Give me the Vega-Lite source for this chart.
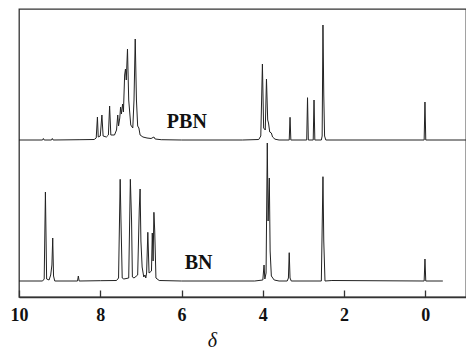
{
  "$schema": "https://vega.github.io/schema/vega-lite/v6.json",
  "width": 447,
  "height": 288,
  "autosize": {"type": "none"},
  "padding": {"left": 19, "top": 9, "right": 0, "bottom": 54},
  "background": "white",
  "config": {
    "view": {"stroke": "#333", "strokeWidth": 1.3},
    "font": "Liberation Serif"
  },
  "datasets": {
    "pbn": [
      {"delta": 10.0, "intensity": 0}, {"delta": 9.42, "intensity": 0}, {"delta": 9.40, "intensity": 1.5}, {"delta": 9.38, "intensity": 0},
      {"delta": 9.20, "intensity": 0}, {"delta": 9.18, "intensity": 1.5}, {"delta": 9.16, "intensity": 0}, {"delta": 8.5, "intensity": 0.3},
      {"delta": 8.15, "intensity": 0.5}, {"delta": 8.10, "intensity": 2}, {"delta": 8.07, "intensity": 23}, {"delta": 8.05, "intensity": 3},
      {"delta": 8.0, "intensity": 4}, {"delta": 7.96, "intensity": 25}, {"delta": 7.93, "intensity": 4}, {"delta": 7.85, "intensity": 3},
      {"delta": 7.80, "intensity": 5}, {"delta": 7.77, "intensity": 34}, {"delta": 7.74, "intensity": 5}, {"delta": 7.65, "intensity": 5},
      {"delta": 7.60, "intensity": 10}, {"delta": 7.57, "intensity": 25}, {"delta": 7.55, "intensity": 14}, {"delta": 7.52, "intensity": 22},
      {"delta": 7.50, "intensity": 33}, {"delta": 7.48, "intensity": 26}, {"delta": 7.45, "intensity": 36}, {"delta": 7.43, "intensity": 28},
      {"delta": 7.40, "intensity": 65}, {"delta": 7.38, "intensity": 71}, {"delta": 7.36, "intensity": 60}, {"delta": 7.33, "intensity": 91},
      {"delta": 7.30, "intensity": 40}, {"delta": 7.25, "intensity": 15}, {"delta": 7.20, "intensity": 12}, {"delta": 7.17, "intensity": 40},
      {"delta": 7.14, "intensity": 101}, {"delta": 7.11, "intensity": 40}, {"delta": 7.08, "intensity": 14}, {"delta": 7.05, "intensity": 12},
      {"delta": 7.02, "intensity": 5}, {"delta": 6.95, "intensity": 3}, {"delta": 6.85, "intensity": 2}, {"delta": 6.75, "intensity": 1.5},
      {"delta": 6.68, "intensity": 3}, {"delta": 6.65, "intensity": 1}, {"delta": 6.5, "intensity": 0.3}, {"delta": 6.0, "intensity": 0},
      {"delta": 4.5, "intensity": 0}, {"delta": 4.1, "intensity": 0.5}, {"delta": 4.05, "intensity": 4}, {"delta": 4.01, "intensity": 76},
      {"delta": 3.98, "intensity": 12}, {"delta": 3.94, "intensity": 10}, {"delta": 3.91, "intensity": 61}, {"delta": 3.88, "intensity": 20},
      {"delta": 3.86, "intensity": 17}, {"delta": 3.83, "intensity": 8}, {"delta": 3.79, "intensity": 7}, {"delta": 3.76, "intensity": 3},
      {"delta": 3.70, "intensity": 0.8}, {"delta": 3.6, "intensity": 0}, {"delta": 3.35, "intensity": 0}, {"delta": 3.33, "intensity": 22.7},
      {"delta": 3.31, "intensity": 0}, {"delta": 2.92, "intensity": 0}, {"delta": 2.90, "intensity": 42.3}, {"delta": 2.88, "intensity": 0},
      {"delta": 2.76, "intensity": 0}, {"delta": 2.74, "intensity": 40}, {"delta": 2.72, "intensity": 0}, {"delta": 2.56, "intensity": 0},
      {"delta": 2.54, "intensity": 4}, {"delta": 2.52, "intensity": 115}, {"delta": 2.50, "intensity": 45}, {"delta": 2.48, "intensity": 4},
      {"delta": 2.45, "intensity": 0}, {"delta": 0.03, "intensity": 0}, {"delta": 0.01, "intensity": 38}, {"delta": -0.01, "intensity": 0},
      {"delta": -1.0, "intensity": 0}
    ],
    "bn": [
      {"delta": 10.0, "intensity": 0}, {"delta": 9.42, "intensity": 0}, {"delta": 9.38, "intensity": 2}, {"delta": 9.35, "intensity": 89},
      {"delta": 9.32, "intensity": 2}, {"delta": 9.26, "intensity": 1}, {"delta": 9.22, "intensity": 6}, {"delta": 9.19, "intensity": 16},
      {"delta": 9.17, "intensity": 43}, {"delta": 9.15, "intensity": 5}, {"delta": 9.12, "intensity": 0}, {"delta": 8.56, "intensity": 0},
      {"delta": 8.54, "intensity": 5}, {"delta": 8.52, "intensity": 0}, {"delta": 8.0, "intensity": 0.3}, {"delta": 7.60, "intensity": 0.5},
      {"delta": 7.55, "intensity": 3}, {"delta": 7.51, "intensity": 101.7}, {"delta": 7.49, "intensity": 60}, {"delta": 7.46, "intensity": 3},
      {"delta": 7.42, "intensity": 2}, {"delta": 7.30, "intensity": 3}, {"delta": 7.26, "intensity": 101.7}, {"delta": 7.23, "intensity": 60},
      {"delta": 7.21, "intensity": 4}, {"delta": 7.17, "intensity": 3}, {"delta": 7.08, "intensity": 6}, {"delta": 7.04, "intensity": 72},
      {"delta": 7.02, "intensity": 92}, {"delta": 7.0, "intensity": 40}, {"delta": 6.97, "intensity": 14}, {"delta": 6.93, "intensity": 4},
      {"delta": 6.90, "intensity": 6}, {"delta": 6.88, "intensity": 3}, {"delta": 6.86, "intensity": 8}, {"delta": 6.83, "intensity": 48.7},
      {"delta": 6.80, "intensity": 8}, {"delta": 6.74, "intensity": 10}, {"delta": 6.72, "intensity": 48}, {"delta": 6.70, "intensity": 20},
      {"delta": 6.68, "intensity": 68.7}, {"delta": 6.66, "intensity": 50}, {"delta": 6.63, "intensity": 3}, {"delta": 6.55, "intensity": 0.5},
      {"delta": 6.0, "intensity": 0}, {"delta": 4.2, "intensity": 0}, {"delta": 4.00, "intensity": 1}, {"delta": 3.97, "intensity": 16},
      {"delta": 3.95, "intensity": 2}, {"delta": 3.92, "intensity": 8}, {"delta": 3.89, "intensity": 138}, {"delta": 3.87, "intensity": 60},
      {"delta": 3.84, "intensity": 103}, {"delta": 3.82, "intensity": 30}, {"delta": 3.79, "intensity": 5}, {"delta": 3.72, "intensity": 1},
      {"delta": 3.6, "intensity": 0}, {"delta": 3.40, "intensity": 0}, {"delta": 3.37, "intensity": 3}, {"delta": 3.35, "intensity": 28.3},
      {"delta": 3.33, "intensity": 3}, {"delta": 3.30, "intensity": 0}, {"delta": 2.56, "intensity": 0}, {"delta": 2.52, "intensity": 104.3},
      {"delta": 2.50, "intensity": 40}, {"delta": 2.47, "intensity": 0}, {"delta": 2.3, "intensity": 0.5}, {"delta": 0.03, "intensity": 0},
      {"delta": 0.01, "intensity": 22}, {"delta": -0.01, "intensity": 0}, {"delta": -0.43, "intensity": 0}
    ],
    "pbnLabel": [{"delta": 5.87, "intensity": 12, "label": "PBN"}],
    "bnLabel": [{"delta": 5.58, "intensity": 11.7, "label": "BN"}]
  },
  "layer": [
    {
      "data": {"name": "pbn"},
      "mark": {"type": "line", "color": "#222", "strokeWidth": 1},
      "encoding": {
        "x": {
          "field": "delta", "type": "quantitative", "title": "δ",
          "scale": {"domain": [10, -1], "nice": false, "zero": false},
          "axis": {
            "values": [10, 8, 6, 4, 2, 0],
            "tickSize": -7,
            "tickColor": "#333",
            "tickWidth": 1.3,
            "domainColor": "#333",
            "domainWidth": 1.3,
            "grid": false,
            "labelFlush": false,
            "labelOverlap": false,
            "labelFont": "Liberation Serif",
            "labelFontWeight": "bold",
            "labelFontSize": 18,
            "labelColor": "#111",
            "labelPadding": 16,
            "titleFont": "Liberation Serif",
            "titleFontStyle": "italic",
            "titleFontWeight": "normal",
            "titleFontSize": 20,
            "titleColor": "#111",
            "titleX": 193,
            "titleY": 49,
            "titleBaseline": "alphabetic"
          }
        },
        "y": {"field": "intensity", "type": "quantitative", "axis": null, "scale": {"domain": [-157, 131], "nice": false, "zero": false}}
      }
    },
    {
      "data": {"name": "pbnLabel"},
      "mark": {"type": "text", "font": "Liberation Serif", "fontWeight": "bold", "fontSize": 20, "baseline": "alphabetic", "align": "center", "color": "#111"},
      "encoding": {
        "x": {"field": "delta", "type": "quantitative", "title": "δ"},
        "y": {"field": "intensity", "type": "quantitative", "axis": null, "scale": {"domain": [-157, 131], "nice": false, "zero": false}},
        "text": {"field": "label"}
      }
    },
    {
      "data": {"name": "bn"},
      "mark": {"type": "line", "color": "#222", "strokeWidth": 1},
      "encoding": {
        "x": {"field": "delta", "type": "quantitative", "title": "δ"},
        "y": {"field": "intensity", "type": "quantitative", "axis": null, "scale": {"domain": [-16, 272], "nice": false, "zero": false}}
      }
    },
    {
      "data": {"name": "bnLabel"},
      "mark": {"type": "text", "font": "Liberation Serif", "fontWeight": "bold", "fontSize": 20, "baseline": "alphabetic", "align": "center", "color": "#111"},
      "encoding": {
        "x": {"field": "delta", "type": "quantitative", "title": "δ"},
        "y": {"field": "intensity", "type": "quantitative", "axis": null, "scale": {"domain": [-16, 272], "nice": false, "zero": false}},
        "text": {"field": "label"}
      }
    }
  ],
  "resolve": {"scale": {"y": "independent"}}
}
